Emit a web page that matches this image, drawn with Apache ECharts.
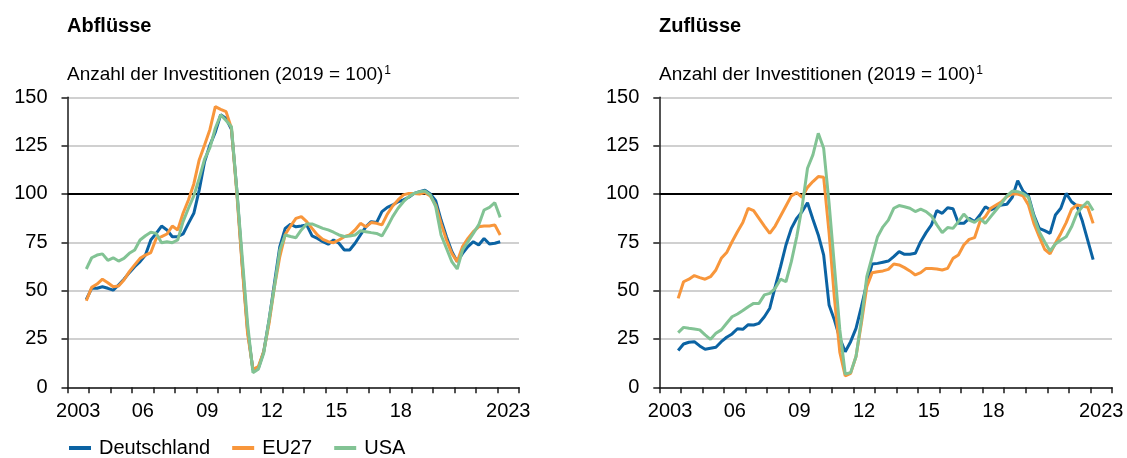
<!DOCTYPE html>
<html>
<head>
<meta charset="utf-8">
<script src="https://cdn.jsdelivr.net/npm/echarts@6/dist/echarts.min.js"></script>
<style>
  html, body { margin: 0; padding: 0; background: #fff; }
  #main { width: 1127px; height: 458px; }
</style>
</head>
<body>
<div id="main"></div>
<script>
// Jahresbeschriftung der x-Achse (eine Kategorie je Jahr 2003..2023)
var yearLabels = ['2003', '', '', '06', '', '', '09', '', '', '12', '', '', '15', '', '', '18', '', '', '', '', '2023'];

// Quartale 2003Q4 .. 2023Q1
var quarters = [];
for (var y = 2003; y <= 2023; y++) {
  for (var q = 1; q <= 4; q++) {
    if ((y > 2003 || q === 4) && (y < 2023 || q === 1)) quarters.push(y + 'Q' + q);
  }
}

// Abflüsse
var outDE = [45.5, 51.2, 51.2, 52, 51.2, 50.3, 52.9, 55.9, 59.3, 62.4,
  65, 68.4, 76.2, 79.6, 83.4, 81.4, 77.9, 77.9, 79.3, 84.8,
  90, 102, 116.7, 125.3, 132, 141, 139, 133.4, 102, 64,
  29.6, 9, 9.8, 18.4, 34.8, 53.8, 72.8, 82.2, 84.3, 83,
  83.4, 84, 78.3, 77, 75.3, 74, 76.2, 74.5, 71, 71,
  74.5, 78.8, 83, 85.7, 85.2, 90.9, 93.1, 94.3, 96, 96.9,
  98.3, 100.3, 101.2, 102, 100, 96.5, 86.5, 77.9, 70.2, 65,
  69.3, 72.8, 75.3, 73.6, 77, 74.1, 74.5, 75.3];
var outEU = [44.8, 51.7, 53.4, 55.9, 54.1, 52, 52.4, 55.5, 59.8, 63.3,
  66.7, 68.4, 69.7, 77, 77.9, 79.3, 83.4, 81.4, 90, 96.9,
  105.2, 117.6, 125.3, 133.4, 145.2, 143.8, 142.6, 134, 100.3, 62.4,
  27.9, 9.3, 10.7, 18.4, 33, 52, 67.6, 79, 83.4, 87.4,
  88.3, 85.7, 82.2, 78.8, 76.5, 75.3, 74.8, 76.2, 77.9, 78.8,
  81.4, 84.8, 83, 85.2, 84.8, 84, 89.6, 93.8, 96.9, 99.5,
  100.3, 100.3, 100, 100.7, 99, 94.3, 84.8, 76.2, 69.3, 65,
  72.8, 77, 80.5, 83, 83.4, 83.4, 84, 78.8];
var outUS = [61.2, 67, 68.4, 69, 65.7, 67, 65.3, 66.7, 69.3, 71,
  76.2, 78.4, 80.2, 79.6, 74.8, 75.3, 74.8, 76.2, 85.7, 92.6,
  99, 108, 118, 124, 134, 141, 138, 134.8, 102, 67.6,
  33, 7.6, 9.3, 17.6, 34.8, 52, 71, 78.8, 78, 77.4,
  81.4, 84.5, 84.5, 83.4, 82.2, 81.4, 80.2, 78.8, 78, 78.3,
  78.8, 81, 80.5, 80, 79.6, 78.3, 83, 88.3, 92.6, 96,
  98.6, 100.3, 101.2, 101.5, 99.5, 93.4, 78.8, 71.9, 65, 61.2,
  71, 75.3, 79.6, 84, 91.7, 93.1, 95.5, 87.9];

// Zuflüsse
var inDE = [19, 22.4, 23.3, 23.6, 21.4, 19.7, 20.2, 20.7, 23.6, 25.9,
  27.6, 30.3, 30, 32.4, 32.2, 33.1, 36.5, 40.9, 52, 62.4,
  73.6, 82.2, 87.4, 90.9, 95.5, 86.9, 78.8, 68.4, 42.6, 34.8,
  25.3, 18.4, 23.6, 30.5, 41.7, 53.8, 63.8, 64.1, 64.7, 65.3,
  67.6, 70.2, 68.8, 68.8, 69.3, 75.3, 80, 84, 91.4, 90,
  92.9, 92.4, 84.8, 84.8, 87.4, 85.7, 89.1, 93.4, 91.7, 93.1,
  94.3, 94.7, 98.3, 106.9, 101.5, 99, 89.1, 82.2, 81, 79.6,
  89.1, 92.6, 100.3, 96, 93.8, 86, 76, 66];
var inEU = [46, 54.6, 55.9, 57.8, 56.7, 55.9, 57.2, 60.7, 66.7, 69.7,
  75.3, 80.5, 85.2, 92.6, 91.4, 87.4, 83.4, 79.6, 83.4, 88.6,
  93.8, 99, 100.7, 98.3, 103.4, 106.4, 109, 108.6, 80, 46,
  18, 5.9, 7.2, 15.9, 33.1, 52, 59.3, 59.8, 60.2, 61,
  63.8, 63.3, 61.9, 60.2, 58.1, 59.3, 61.5, 61.5, 61.2, 60.7,
  61.5, 66.7, 68.4, 73.6, 76.5, 77.4, 85.7, 88.3, 92.6, 94.3,
  96, 98.6, 100, 100, 99, 94.3, 84.8, 77.9, 71.4, 69,
  74.5, 79.6, 85.2, 92.1, 94.3, 93.8, 93.1, 84.8];
var inUS = [28.3, 31, 30.5, 30.2, 29.7, 27.1, 24.8, 27.9, 29.7, 33.1,
  36.5, 37.9, 39.7, 41.7, 43.4, 43.4, 47.8, 48.6, 51.2, 55.9,
  54.6, 65, 77.9, 93.4, 113.3, 120.2, 131.4, 123.6, 95.2, 62.4,
  29.7, 6.9, 7.6, 15.9, 34.8, 57.2, 67.6, 77.9, 83, 86.5,
  92.6, 94, 93.4, 92.6, 90.9, 92.1, 90.9, 88.6, 84, 80,
  82.6, 82.2, 85.7, 89.6, 86.5, 85.3, 87.4, 84.8, 88.3, 91.7,
  95.2, 99, 101.5, 101.2, 100.3, 98.3, 88.3, 80.5, 75.3, 70.5,
  74.1, 76.2, 77.9, 83, 90, 93.4, 96, 91.4];

var colors = { de: '#0b63a3', eu: '#f8963b', us: '#82c394' };
var font = "'Liberation Sans', Arial, sans-serif";

// Quartal -> Position auf der Zeitachse (Mitte des Quartals)
function toPairs(values) {
  return values.map(function (v, i) {
    var yy = parseInt(quarters[i].slice(0, 4), 10);
    var qq = parseInt(quarters[i].slice(5), 10);
    return [yy + (qq - 0.5) / 4, v];
  });
}

function catAxis(grid) {
  return {
    type: 'category', gridIndex: grid, data: yearLabels, boundaryGap: true,
    axisLine: { lineStyle: { color: '#1a1a1a', width: 1.5 } },
    axisTick: { show: true, interval: 0, alignWithLabel: false, length: 6, lineStyle: { color: '#1a1a1a', width: 1.5 } },
    axisLabel: { interval: 0, color: '#000', fontSize: 20, fontFamily: font, margin: 14 },
    splitLine: { show: false }
  };
}
function timeAxis(grid) {
  return { type: 'value', gridIndex: grid, min: 2003, max: 2024, show: false, splitLine: { show: false } };
}
function valAxis(grid) {
  return {
    type: 'value', gridIndex: grid, min: 0, max: 150, interval: 25,
    axisLine: { show: true, lineStyle: { color: '#1a1a1a', width: 1.5 } },
    axisTick: { show: true, length: 6, lineStyle: { color: '#1a1a1a', width: 1.5 } },
    axisLabel: { color: '#000', fontSize: 20, fontFamily: font, margin: 20 },
    splitLine: { show: true, lineStyle: { color: '#c0c0c0', width: 1.5 } }
  };
}
function line(name, values, xIdx, yIdx, color, withRef) {
  var s = {
    name: name, type: 'line', xAxisIndex: xIdx, yAxisIndex: yIdx,
    data: toPairs(values), showSymbol: false, symbol: 'none',
    lineStyle: { color: color, width: 3 }, itemStyle: { color: color },
    animation: false
  };
  if (withRef) {
    s.markLine = {
      silent: true, symbol: 'none', z: 1, animation: false,
      label: { show: false },
      lineStyle: { color: '#000', width: 1.8, type: 'solid' },
      data: [{ yAxis: 100 }]
    };
  }
  return s;
}

var subText = '{a|Anzahl der Investitionen (2019 = 100)}{s|1}';
var subRich = {
  a: { fontSize: 19, fontWeight: 'normal', fontFamily: font, color: '#000' },
  s: { fontSize: 12, fontWeight: 'normal', fontFamily: font, color: '#000', verticalAlign: 'top', padding: [0, 0, 8, 1] }
};

var chart = echarts.init(document.getElementById('main'));
chart.setOption({
  backgroundColor: '#fff',
  animation: false,
  title: [
    { text: 'Abflüsse', left: 62, top: 11, textStyle: { fontSize: 20, fontWeight: 'bold', fontFamily: font, color: '#000' } },
    { text: 'Zuflüsse', left: 654, top: 11, textStyle: { fontSize: 20, fontWeight: 'bold', fontFamily: font, color: '#000' } },
    { text: subText, left: 62, top: 60, textStyle: { fontWeight: 'normal', rich: subRich } },
    { text: subText, left: 654, top: 60, textStyle: { fontWeight: 'normal', rich: subRich } }
  ],
  legend: {
    left: 64, top: 433, icon: 'rect', itemWidth: 22, itemHeight: 4, itemGap: 22,
    textStyle: { fontSize: 20, fontFamily: font, color: '#000', padding: [0, 0, 0, 3] },
    data: ['Deutschland', 'EU27', 'USA']
  },
  grid: [
    { left: 67.5, top: 97.3, width: 451.5, height: 290 },
    { left: 659.3, top: 97.3, width: 452.7, height: 290 }
  ],
  xAxis: [catAxis(0), timeAxis(0), catAxis(1), timeAxis(1)],
  yAxis: [valAxis(0), valAxis(1)],
  series: [
    line('Deutschland', outDE, 1, 0, colors.de, true),
    line('EU27', outEU, 1, 0, colors.eu, false),
    line('USA', outUS, 1, 0, colors.us, false),
    line('Deutschland', inDE, 3, 1, colors.de, true),
    line('EU27', inEU, 3, 1, colors.eu, false),
    line('USA', inUS, 3, 1, colors.us, false)
  ]
});
</script>
</body>
</html>
